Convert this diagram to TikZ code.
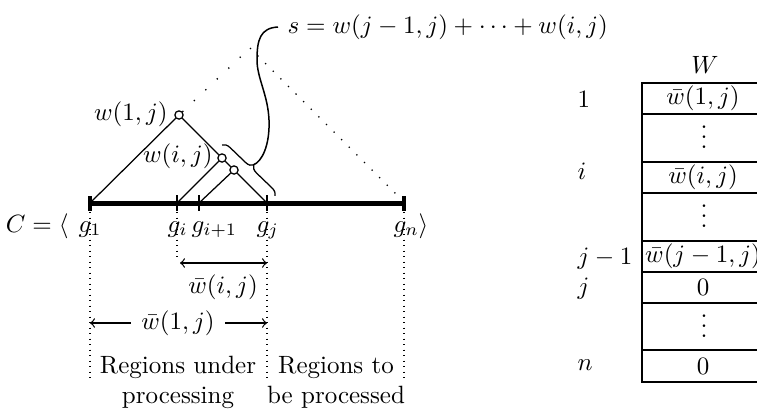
\documentclass[tikz,border=0pt]{standalone}
\usetikzlibrary{decorations.pathreplacing,calc}
\begin{document}
\begin{tikzpicture}[x=0.4pt,y=-0.4pt,>=to,
  txt/.style={inner sep=0pt},
  knot/.style={circle,draw,fill=white,line width=0.5pt,minimum size=3.3pt,inner sep=0pt},
  tree/.style={line width=0.5pt},
  axisline/.style={line width=2pt},
  endtick/.style={line width=1.6pt},
  midtick/.style={line width=0.5pt},
  vdot/.style={line width=0.5pt,dash pattern=on 0.5pt off 1.7pt},
  ldots/.style={line width=0.55pt,dash pattern=on 0.5pt off 5.8pt},
  rdots/.style={line width=0.55pt,dash pattern=on 0.5pt off 3.8pt},
  cell/.style={draw,line width=0.8pt,minimum width=48.8pt,inner sep=0pt,anchor=north},
  dimarrow/.style={line width=0.5pt}]
\useasboundingbox (0,0) rectangle (757,408);
\clip (0,0) rectangle (757,408);

% axis coordinates
\coordinate (g1) at (90,203);
\coordinate (gi) at (177,203);
\coordinate (gk) at (199,203);
\coordinate (gj) at (267,203);
\coordinate (gn) at (404,203);
\coordinate (apex) at (250,48);
\coordinate (dend) at (400,198);

% tree nodes
\node[knot] (n1) at (179,115) {};
\node[knot] (ni) at (222,158) {};
\node[knot] (nk) at (234,170) {};

% main axis
\draw[axisline] (g1) -- (gn);
\draw[endtick] ($(g1)+(0,-7)$) -- ($(g1)+(0,8)$);
\draw[endtick] ($(gn)+(0,-7)$) -- ($(gn)+(0,8)$);
\draw[midtick] ($(gi)+(0,-8)$) -- ($(gi)+(0,8)$);
\draw[midtick] ($(gk)+(0,-8)$) -- ($(gk)+(0,8)$);
\draw[midtick] ($(gj)+(0,-8)$) -- ($(gj)+(0,8)$);

% tree
\draw[tree] (g1) -- (n1) -- (ni) -- (nk) -- (gj);
\draw[tree] (gi) -- (ni);
\draw[tree] (gk) -- (nk);

% dotted triangle
\draw[ldots] (n1) -- (apex);
\draw[rdots] (apex) -- (dend);

% brace and its curve
\coordinate (b1) at (222,145);
\coordinate (b2) at (275,196);
\draw[decorate,decoration={brace,amplitude=3pt},line width=0.5pt] (b1) -- (b2);
\coordinate (btip) at (253,165);
\coordinate (send) at (278,27);
\draw[line width=0.6pt] (btip) .. controls (262,162) and (270,145) .. (269,120)
  .. controls (268,95) and (257,78) .. (257,60)
  .. controls (257,40) and (260,28) .. (send);
\node[txt,anchor=base west] (s) at (287,33) {$s = w(j-1,j) + \cdots + w(i,j)$};

% tree labels
\node[txt,anchor=east] (l1) at (168,114) {$w(1,j)$};
\node[txt,anchor=east] (li) at (213,156) {$w(i,j)$};

% axis labels
\node[txt,anchor=base east] (lc) at (69,232) {$C = \langle$};
\node[txt,anchor=base west] (lg1) at (78,232) {$g_1$};
\node[txt,anchor=base west] (lgi) at (167,232) {$g_i$};
\node[txt,anchor=base west] (lgk) at (191,232) {$g_{i+1}$};
\node[txt,anchor=base west] (lgj) at (256,232) {$g_j$};
\node[txt,anchor=base west] (lgn) at (393,232) {$g_n$};
\node[txt,anchor=base west] (lr) at (418,232) {$\rangle$};

% dotted verticals
\coordinate (v1a) at (90,212);  \coordinate (v1b) at (90,381);
\coordinate (via) at (177,212); \coordinate (vib) at (177,260);
\coordinate (vja) at (267,212); \coordinate (vjb) at (267,382);
\coordinate (vna) at (404,212); \coordinate (vnb) at (404,381);
\draw[vdot] (v1a) -- (v1b);
\draw[vdot] (via) -- (vib);
\draw[vdot] (vja) -- (vjb);
\draw[vdot] (vna) -- (vnb);

% dimension arrows
\coordinate (ail) at (180,263);
\coordinate (air) at (267,263);
\draw[dimarrow,<->] (ail) -- (air);
\node[txt] (lwi) at (223,287) {$\bar{w}(i,j)$};
\coordinate (a1l) at (90,323);
\coordinate (a1r) at (267,323);
\node[inner sep=4pt] (lw1) at (178,323) {$\bar{w}(1,j)$};
\draw[dimarrow,->] (lw1) -- (a1l);
\draw[dimarrow,->] (lw1) -- (a1r);

% region texts
\node[txt,align=center,anchor=north] (r1) at (178,356) {Regions under\\processing};
\node[txt,align=center,anchor=north] (r2) at (336,356) {Regions to\\be processed};

% table
\node[txt] (W) at (705,65) {$W$};
\node[cell,minimum height=12.4pt] (c1) at (703,82) {$\bar{w}(1,j)$};
\node[cell,minimum height=19.2pt] (c2) at (703,113) {};
\node[cell,minimum height=12.4pt] (c3) at (703,161) {$\bar{w}(i,j)$};
\node[cell,minimum height=19.2pt] (c4) at (703,192) {};
\node[cell,minimum height=12.4pt] (c5) at (703,240) {$\bar{w}(j-1,j)$};
\node[cell,minimum height=12.4pt] (c6) at (703,271) {$0$};
\node[cell,minimum height=18.8pt] (c7) at (703,302) {};
\node[cell,minimum height=12.8pt] (c8) at (703,349) {$0$};
\node[txt,anchor=base] (d2) at (704,148.5) {$\vdots$};
\node[txt,anchor=base] (d4) at (704,227.5) {$\vdots$};
\node[txt,anchor=base] (d7) at (704,337) {$\vdots$};

% row labels
\node[txt,anchor=base west] (r1l) at (577,107) {$1$};
\node[txt,anchor=base west] (ril) at (577,179) {$i$};
\node[txt,anchor=base west] (rj1l) at (577,264) {$j-1$};
\node[txt,anchor=base west] (rjl) at (577,294) {$j$};
\node[txt,anchor=base west] (rnl) at (577,370) {$n$};
\end{tikzpicture}
\end{document}
